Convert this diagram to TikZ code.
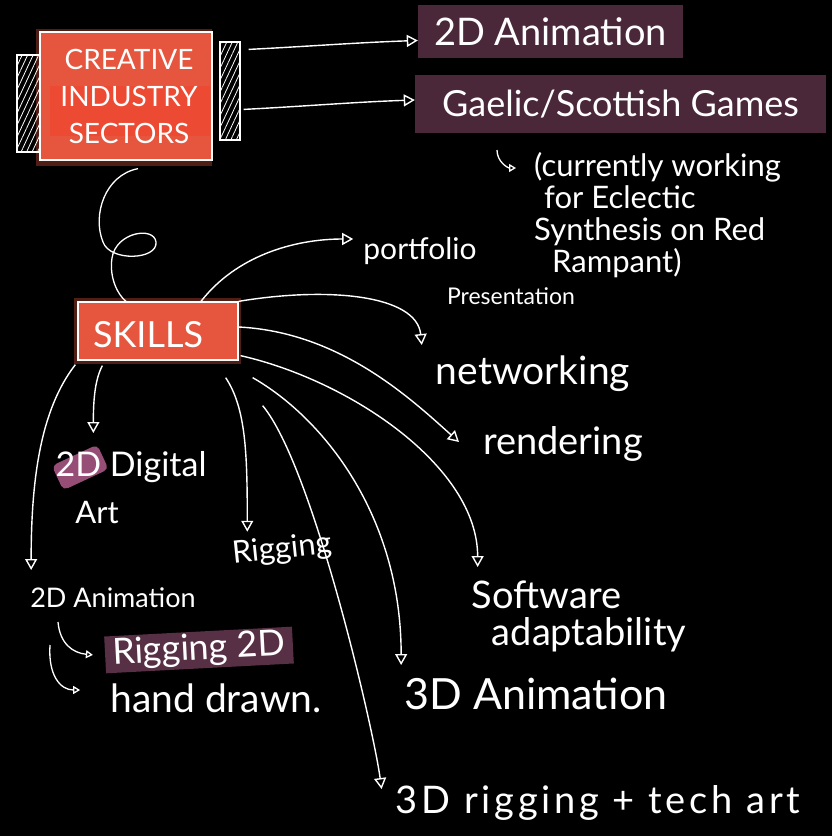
\documentclass[tikz,border=0pt]{standalone}
\usepackage{fontspec}
\setmainfont{Lato}
\usetikzlibrary{arrows.meta,patterns.meta}

\newcommand{\hw}[1]{\fontsize{#1}{#1}\selectfont}
\newcommand{\hws}[2]{\fontsize{#1}{#1}\selectfont\addfontfeature{LetterSpace=#2}}

\begin{document}
\begin{tikzpicture}[x=1pt, y=-1pt,
    hand/.style={text=white, inner sep=2pt},
    redbox/.style={fill=skillred, draw=white, line width=1.3pt, inner sep=0pt},
    plumbox/.style={fill=boxplum, text=white, inner sep=0pt},
    hatchbar/.style={draw=white, line width=1.2pt,
        pattern={Lines[angle=65, distance=5pt, line width=0.8pt]}, pattern color=white},
    link/.style={white, line width=1.4pt, -{Triangle[open, length=11pt, width=12pt]}},
    hook/.style={white, line width=1.3pt, -{Triangle[open, length=7pt, width=8pt]}},
    curl/.style={white, line width=1.3pt}]

% --- colours ---
\definecolor{skillred}{RGB}{230,86,62}
\definecolor{bandred}{RGB}{242,64,40}
\definecolor{boxplum}{RGB}{74,40,58}
\definecolor{rigplum}{RGB}{88,48,70}
\definecolor{pinkmark}{RGB}{150,78,118}

% --- background ---
\fill[black] (0,0) rectangle (832,836);
\useasboundingbox (0,0) rectangle (832,836);

% --- creative industry sectors ---
\fill[skillred, opacity=0.35] (36,29) rectangle (212,166);
\node[redbox, minimum width=172pt, minimum height=128pt] (sectors) at (126,96) {};
\fill[bandred, opacity=0.5] (50,86) rectangle (210,136);
\node[hand, align=center, font={\fontsize{28}{37}\selectfont}] (sectorslabel) at ([xshift=3pt]sectors) {CREATIVE\\INDUSTRY\\SECTORS};
\node[hatchbar, minimum width=23pt, minimum height=97pt] (barL) at (28.5,103.5) {};
\node[hatchbar, minimum width=20pt, minimum height=98pt] (barR) at (230,91) {};

% --- sector boxes ---
\node[plumbox, minimum width=265pt, minimum height=53pt, font=\hw{38}] (anim2d) at (550.5,31.5) {2D Animation};
\node[plumbox, minimum width=411pt, minimum height=58pt, font=\hw{36}] (gaelic) at (620.5,104) {Gaelic/Scottish Games};
\draw[link] ([xshift=8pt, yshift=-8pt]barR.north east) .. controls +(60,-3) and +(-60,2) .. ([yshift=-9pt]anim2d.west);
\draw[link] ([xshift=3pt, yshift=-68pt]barR.north east) .. controls +(60,-3) and +(-60,2) .. ([yshift=4pt]gaelic.west);

% --- note under gaelic ---
\node[hand, anchor=north west, align=left, font={\fontsize{31}{32}\selectfont}] (work) at (532,150)
    {(currently working\\\hspace*{10pt}for Eclectic\\Synthesis on Red\\\hspace*{18pt}Rampant)};
\coordinate (hookA) at (497,150);
\draw[hook] (hookA) .. controls +(0,12) and +(-8,0) .. ([xshift=-16pt, yshift=-18pt]work.north west);

% --- skills ---
\fill[skillred, opacity=0.35] (74,298) rectangle (241,364);
\node[redbox, minimum width=160pt, minimum height=58pt] (skills) at (158,331) {};
\node[hand, font=\hw{36}] (skillslabel) at ([xshift=-10pt, yshift=-4pt]skills) {SKILLS};
\draw[curl] ([xshift=12pt, yshift=-8pt]sectors.south) .. controls (105,175) and (92,215) .. (103,242)
    .. controls (110,262) and (158,260) .. (156,242)
    .. controls (154,226) and (116,232) .. (112,258)
    .. controls (109,278) and (118,295) .. ([xshift=-32pt]skills.north);

% --- skill labels ---
\node[hand, font=\hw{30}] (port) at (420,251) {portfolio};
\node[hand, font=\hw{23}] (pres) at (511,296) {Presentation};
\node[hand, font=\hw{39}] (netw) at (533,374) {networking};
\node[hand, font=\hw{38}] (rend) at (563,444) {rendering};
\node[hand, align=left, font={\fontsize{38}{37}\selectfont}] (soft) at (579,616) {Software\\\hspace*{20pt}adaptability};
\node[hand, font=\hw{43}] (anim3d) at (536,694) {3D Animation};
\node[hand, font=\hws{38}{10}] (rig3d) at (598,803) {3D rigging + tech art};
\node[hand, font=\hw{31}, rotate=6] (rigging) at (282,550) {Rigging};
\fill[pinkmark, rounded corners=5pt, rotate around={25:(80,467)}] (55,454) rectangle (105,481);
\node[hand, font=\hw{34}] (digital) at (131,467) {2D Digital};
\node[hand, font=\hw{31}] (art) at (97,513) {Art};
\node[hand, font=\hw{27}] (anim2s) at (113,598) {2D Animation};
\node[hand, fill=rigplum, minimum width=188pt, minimum height=36pt, font=\hw{36}, rotate=3] (rig2d) at (199,650) {Rigging 2D};
\node[hand, font=\hw{39}] (drawn) at (216,698) {hand drawn.};

% --- skill arrows ---
\draw[link] ([xshift=43pt]skills.north) .. controls +(35,-45) and +(-60,0) .. ([xshift=-8pt, yshift=12pt]port.west);
\draw[link] (skills.north east) .. controls +(90,-15) and +(-5,-50) .. ([xshift=-12pt, yshift=29pt]netw.west);
\draw[link] ([yshift=4pt]skills.east) .. controls +(100,5) and +(-50,-45) .. ([xshift=-22pt, yshift=2pt]rend.west);
\draw[link] ([xshift=2pt, yshift=5pt]skills.south east) .. controls +(110,25) and +(0,-100) .. ([xshift=8pt, yshift=49pt]soft.west);
\coordinate (s3d) at ([xshift=14pt, yshift=-17pt]skills.south east);
\draw[link] (s3d) .. controls +(70,40) and +(0,-150) .. ([xshift=-1pt, yshift=29pt]anim3d.west);
\coordinate (sri) at ([xshift=24pt, yshift=-45pt]skills.south east);
\draw[link] (sri) .. controls +(50,60) and +(-8,-60) .. ([xshift=-12pt, yshift=14pt]rig3d.west);
\coordinate (srg) at ([xshift=-13pt, yshift=-17pt]skills.south east);
\draw[link] (srg) .. controls +(20,30) and +(0,-80) .. ([xshift=-33pt, yshift=2pt]rigging.north);
\draw[link] ([xshift=25pt, yshift=-5pt]skills.south west) .. controls +(-8,15) and +(0,-30) .. ([xshift=40pt, yshift=34pt]digital.west);
\draw[link] ([xshift=-2pt, yshift=-4pt]skills.south west) .. controls +(-35,45) and +(0,-90) .. ([xshift=3pt, yshift=28pt]anim2s.west);

% --- 2D animation hooks ---
\coordinate (hookB) at (58,622);
\coordinate (hookC) at (50,645);
\draw[hook] (hookB) .. controls +(2,22) and +(-20,-2) .. ([xshift=-12pt]rig2d.west);
\draw[hook] (hookC) .. controls +(-2,30) and +(-20,0) .. ([xshift=-28pt, yshift=8pt]drawn.west);

\end{tikzpicture}
\end{document}
